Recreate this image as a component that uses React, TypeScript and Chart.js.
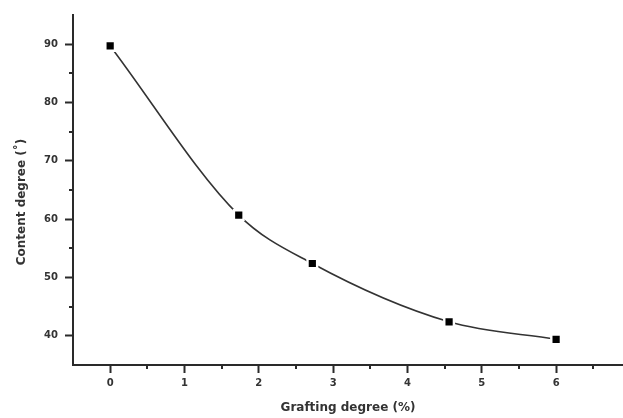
import React, { useEffect, useRef } from "react";
import { Chart, registerables } from "chart.js";

Chart.register(...registerables);

const graftingDegree = [0, 1.73, 2.72, 4.56, 6.0];
const contentDegree = [89.7, 60.7, 52.4, 42.4, 39.4];
const xTickValues = [0, 1, 2, 3, 4, 5, 6];
const yTickValues = [40, 50, 60, 70, 80, 90];
const xTitle = "Grafting degree (%)";
const yTitle = "Content degree (\u02DA)";

const AXIS_COLOR = "#2a2a2a";
const TEXT_COLOR = "#333333";
const FONT_FAMILY = "'DejaVu Sans', Verdana, sans-serif";

const minorTicksPlugin = {
  id: "minorTicks",
  afterDraw(chart: any) {
    const { ctx } = chart;
    const xs = chart.scales.x;
    const ys = chart.scales.y;
    ctx.save();
    ctx.strokeStyle = AXIS_COLOR;
    ctx.lineWidth = 2;
    ctx.beginPath();
    for (let v = Math.ceil(xs.min * 2) / 2; v < xs.max; v += 0.5) {
      if (Math.abs(v - Math.round(v)) < 1e-6 || v <= xs.min + 1e-6) continue;
      const px = Math.round(xs.getPixelForValue(v));
      ctx.moveTo(px, ys.bottom);
      ctx.lineTo(px, ys.bottom + 4);
    }
    for (let v = Math.ceil(ys.min / 5) * 5; v < ys.max - 1e-6; v += 5) {
      if (v % 10 === 0 || v <= ys.min + 1e-6) continue;
      const py = Math.round(ys.getPixelForValue(v));
      ctx.moveTo(xs.left, py);
      ctx.lineTo(xs.left - 4, py);
    }
    ctx.stroke();

    // y-axis title
    const cy = (chart.chartArea.top + chart.chartArea.bottom) / 2 + 12;
    ctx.translate(22, cy);
    ctx.rotate(-Math.PI / 2);
    ctx.fillStyle = TEXT_COLOR;
    ctx.font = `bold 12px ${FONT_FAMILY}`;
    ctx.textAlign = "center";
    ctx.textBaseline = "middle";
    ctx.fillText(yTitle, 0, 0);
    ctx.restore();
  },
};

export default function App() {
  const ref = useRef<HTMLCanvasElement | null>(null);
  useEffect(() => {
    if (!ref.current) return;
    const chart = new Chart(ref.current, {
      type: "line",
      data: {
        datasets: [
          {
            data: graftingDegree.map((x, i) => ({ x, y: contentDegree[i] })),
            borderColor: "#333333",
            borderWidth: 1.6,
            cubicInterpolationMode: "monotone",
            pointStyle: "rect",
            pointRadius: 6.8,
            pointBackgroundColor: "#000000",
            pointBorderColor: "#ffffff",
            pointBorderWidth: 2.4,
            fill: false,
          },
        ],
      },
      options: {
        responsive: false,
        animation: false,
        layout: { padding: { top: 15, left: 0, right: 0, bottom: 0 }, autoPadding: false },
        plugins: {
          legend: { display: false },
          tooltip: { enabled: false },
        },
        scales: {
          x: {
            type: "linear",
            min: -0.5,
            max: 6.9,
            afterBuildTicks: (s: any) => {
              s.ticks = xTickValues.map((value) => ({ value }));
            },
            afterFit: (s: any) => {
              s.height = 53;
              s.paddingLeft = 0;
              s.paddingRight = 0;
            },
            ticks: {
              padding: 4,
              color: TEXT_COLOR,
              font: { family: FONT_FAMILY, size: 10, weight: "bold" },
            },
            grid: {
              drawOnChartArea: false,
              drawTicks: true,
              tickLength: 8,
              tickWidth: 2,
              tickColor: AXIS_COLOR,
              color: AXIS_COLOR,
            },
            border: { display: true, color: AXIS_COLOR, width: 2 },
            title: {
              display: true,
              text: xTitle,
              color: TEXT_COLOR,
              font: { family: FONT_FAMILY, size: 12, weight: "bold" },
              padding: { top: 0, bottom: 3 },
            },
          },
          y: {
            type: "linear",
            min: 35,
            max: 95,
            afterBuildTicks: (s: any) => {
              s.ticks = yTickValues.map((value) => ({ value }));
            },
            afterFit: (s: any) => {
              s.width = 73;
              s.paddingTop = 0;
              s.paddingBottom = 0;
            },
            ticks: {
              padding: 7,
              color: TEXT_COLOR,
              font: { family: FONT_FAMILY, size: 10, weight: "bold" },
            },
            grid: {
              drawOnChartArea: false,
              drawTicks: true,
              tickLength: 8,
              tickWidth: 2,
              tickColor: AXIS_COLOR,
              color: AXIS_COLOR,
            },
            border: { display: true, color: AXIS_COLOR, width: 2 },
          },
        },
      },
      plugins: [minorTicksPlugin],
    });
    return () => chart.destroy();
  }, []);

  return (
    <div style={{ position: "absolute", left: 0, top: 0, width: 623, height: 418, background: "#fff" }}>
      <canvas ref={ref} width={623} height={418} style={{ display: "block" }} />
    </div>
  );
}
